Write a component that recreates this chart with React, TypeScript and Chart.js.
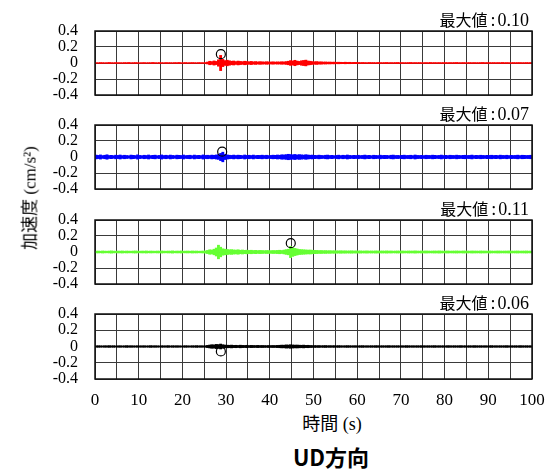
import React, { useEffect, useRef } from 'react';
import { Chart, registerables } from 'chart.js';

Chart.register(...registerables);

// ---- data: amplitude envelopes per 0.5-second bin, in 0.001 cm/s^2 ----
const TIME_BINS: number[] = Array.from({ length: 200 }, (_, i) => i * 0.5 + 0.25);

const RED_AMP = [
  5, 4, 6, 5, 4, 5, 7, 5, 4, 6, 5, 5, 4, 6, 5, 7, 4, 5, 6, 5,
  4, 5, 6, 4, 5, 5, 7, 5, 4, 6, 5, 4, 6, 5, 5, 4, 6, 5, 7, 4,
  5, 6, 4, 5, 6, 5, 4, 6, 5, 5,
  6, 12, 22, 18, 26, 20, 40, 95, 45, 30,
  35, 28, 22, 25, 18, 24, 20, 17, 22, 19, 16, 20, 15, 18, 14, 17, 15, 13, 16, 14,
  13, 15, 12, 14, 13, 16, 14, 18, 22, 30, 26, 34, 24, 20, 28, 32, 36, 25, 22, 18,
  16, 18, 14, 15, 12, 13, 11, 12, 10, 11, 9, 10, 9, 8, 10, 8, 9, 7, 8, 8,
  7, 6, 7, 6, 5, 7, 6, 6, 5, 7, 6, 5, 6, 7, 5, 6, 5, 6, 7, 5,
  6, 5, 5, 6, 7, 5, 6, 5, 6, 5, 5, 6, 5, 7, 5, 6, 5, 6, 5, 6,
  6, 5, 6, 5, 6, 7, 5, 5, 6, 5, 5, 6, 5, 6, 5, 5, 6, 7, 5, 6,
  6, 5, 6, 5, 6, 5, 7, 5, 6, 5, 5, 6, 5, 6, 6, 5, 5, 6, 5, 6,
];

const BLUE_AMP = [
  24, 20, 26, 18, 22, 28, 19, 21, 17, 23, 20, 25, 18, 22, 19, 16, 24, 21, 18, 27,
  20, 17, 22, 19, 25, 18, 21, 23, 17, 20, 26, 19, 22, 18, 24, 20, 17, 23, 21, 19,
  25, 18, 20, 22, 17, 24, 19, 21, 18, 26,
  20, 22, 19, 24, 21, 26, 30, 45, 60, 32,
  26, 22, 20, 24, 19, 23, 21, 18, 25, 20, 22, 19, 24, 18, 21, 20, 23, 19, 22, 18,
  20, 23, 21, 25, 22, 28, 26, 30, 34, 31, 28, 32, 26, 30, 27, 24, 29, 25, 22, 24,
  21, 19, 23, 20, 18, 22, 24, 19, 21, 17, 20, 23, 18, 22, 19, 25, 20, 18, 21, 19,
  22, 18, 20, 24, 19, 21, 17, 22, 20, 18, 23, 19, 21, 20, 17, 22, 24, 19, 20, 18,
  21, 23, 19, 20, 22, 18, 25, 20, 19, 21, 18, 22, 20, 19, 23, 21, 18, 20, 24, 19,
  21, 18, 22, 20, 19, 23, 20, 18, 21, 22, 19, 20, 24, 18, 21, 19, 22, 20, 18, 21,
  20, 22, 19, 21, 18, 23, 20, 19, 22, 18, 21, 19, 20, 23, 18, 22, 21, 19, 20, 22,
];

const GREEN_AMP = [
  11, 12, 10, 13, 11, 10, 12, 14, 11, 10, 12, 11, 13, 10, 12, 11, 10, 12, 13, 11,
  10, 12, 11, 13, 10, 12, 11, 10, 12, 11, 13, 11, 10, 12, 11, 14, 10, 12, 11, 13,
  10, 11, 12, 10, 13, 11, 12, 10, 11, 12,
  14, 20, 28, 25, 35, 50, 85, 60, 40, 35,
  32, 28, 30, 26, 24, 28, 22, 25, 21, 23, 20, 22, 19, 21, 18, 20, 19, 17, 19, 18,
  17, 19, 18, 20, 22, 19, 24, 30, 35, 70, 55, 45, 38, 32, 30, 28, 26, 24, 25, 22,
  21, 20, 18, 19, 17, 18, 16, 17, 15, 16, 15, 14, 16, 14, 15, 13, 14, 15, 13, 14,
  13, 14, 12, 13, 14, 12, 13, 12, 14, 13, 12, 13, 12, 14, 12, 13, 11, 12, 13, 12,
  13, 12, 11, 13, 12, 12, 14, 12, 11, 13, 12, 13, 12, 11, 12, 13, 12, 14, 12, 11,
  12, 13, 11, 12, 12, 13, 12, 11, 13, 12, 12, 11, 13, 12, 12, 11, 13, 12, 12, 11,
  13, 12, 11, 12, 13, 12, 11, 12, 12, 13, 12, 11, 12, 13, 11, 12, 12, 13, 11, 12,
];

const BLACK_AMP = [
  9, 10, 9, 8, 10, 9, 11, 9, 10, 8, 9, 10, 8, 9, 11, 9, 10, 9, 8, 10,
  9, 9, 10, 8, 9, 11, 9, 10, 9, 8, 10, 9, 9, 11, 8, 10, 9, 10, 9, 8,
  9, 10, 9, 8, 10, 9, 11, 9, 10, 9,
  10, 14, 18, 22, 20, 26, 24, 30, 22, 18,
  16, 15, 17, 14, 15, 13, 16, 14, 13, 15, 12, 14, 13, 12, 14, 12, 13, 12, 11, 13,
  12, 13, 12, 14, 15, 17, 16, 20, 18, 22, 19, 17, 18, 16, 15, 17, 14, 15, 13, 12,
  12, 11, 12, 10, 11, 12, 10, 11, 10, 11, 10, 11, 10, 9, 10, 11, 10, 9, 10, 10,
  9, 10, 11, 9, 10, 9, 10, 9, 11, 10, 9, 10, 9, 10, 11, 9, 10, 9, 10, 9,
  10, 9, 11, 10, 9, 10, 9, 10, 9, 11, 10, 9, 10, 9, 10, 11, 9, 10, 9, 10,
  9, 11, 10, 9, 10, 9, 10, 11, 9, 10, 9, 10, 9, 11, 10, 9, 10, 9, 10, 9,
  10, 11, 9, 10, 9, 10, 9, 10, 11, 9, 10, 9, 10, 9, 11, 10, 9, 10, 9, 10,
];

const AMPS = [RED_AMP, BLUE_AMP, GREEN_AMP, BLACK_AMP];
const COLORS = ['#ff0000', '#0000ff', '#66ff33', '#000000'];
const MAX_PREFIX = '最大値';
const MAX_VALUES = ['0.10', '0.07', '0.11', '0.06'];
const PEAK_TIMES = [28.8, 29.1, 44.8, 28.8];
const PEAK_VALUES = [0.11, 0.066, 0.11, -0.06];

const X_MIN = 0;
const X_MAX = 100;
const X_GRID_STEP = 5;
const X_LABEL_STEP = 10;
const Y_MIN = -0.4;
const Y_MAX = 0.4;
const Y_STEP = 0.2;

const Y_TITLE = '加速度 (cm/s²)';
const X_TITLE = '時間 (s)';
const CHART_TITLE = 'UD方向';

// ---- layout ----
const PANEL_TOPS = [31, 125, 220, 314];
const PANEL_H = 64;
const PAD = 12;
const X_AXIS_H = 30;
const SERIF = '"Liberation Serif", "Times New Roman", serif';
const HTML_SERIF = '"Liberation Serif", "Noto Sans CJK JP", serif';

Chart.defaults.font.family = SERIF;

const framePlugin = {
  id: 'frame',
  afterDatasetsDraw(chart: any) {
    const { ctx, chartArea: a } = chart;
    ctx.save();
    ctx.strokeStyle = '#111';
    ctx.lineWidth = 1.5;
    ctx.strokeRect(a.left, a.top, a.right - a.left, a.bottom - a.top);
    ctx.restore();
  },
};

function makeChart(canvas: HTMLCanvasElement, idx: number) {
  const isLast = idx === 3;
  const amps = AMPS[idx];
  return new Chart(canvas, {
    type: 'bar',
    data: {
      datasets: [
        {
          type: 'line',
          data: [{ x: PEAK_TIMES[idx], y: PEAK_VALUES[idx] }],
          showLine: false,
          pointRadius: 4.5,
          pointHoverRadius: 4.5,
          pointBorderColor: '#000',
          pointBackgroundColor: 'rgba(0,0,0,0)',
          pointBorderWidth: 1.2,
          order: 0,
        } as any,
        {
          type: 'bar',
          data: amps.map((a, i) => ({ x: TIME_BINS[i], y: [-a / 1000, a / 1000] })),
          backgroundColor: COLORS[idx],
          borderWidth: 0,
          barPercentage: 1,
          categoryPercentage: 1,
          order: 1,
        } as any,
      ],
    },
    options: {
      animation: false,
      responsive: false,
      maintainAspectRatio: false,
      layout: { padding: { left: 0, right: 15, top: PAD, bottom: isLast ? 0 : PAD } },
      plugins: {
        legend: { display: false },
        tooltip: { enabled: false },
        title: { display: false },
      },
      events: [],
      scales: {
        x: {
          type: 'linear',
          min: X_MIN,
          max: X_MAX,
          offset: false,
          ticks: {
            stepSize: X_GRID_STEP,
            autoSkip: false,
            display: isLast,
            padding: 0,
            maxRotation: 0,
            minRotation: 0,
            font: { family: SERIF, size: 17 },
            color: '#000',
            callback: (v: any) => (Number(v) % X_LABEL_STEP === 0 ? String(v) : ''),
          },
          grid: {
            color: '#3a3a3a',
            lineWidth: 1,
            drawTicks: isLast,
            tickLength: 11,
            tickColor: 'rgba(0,0,0,0)',
            offset: false,
          },
          border: { display: false },
          afterFit: (s: any) => {
            s.height = isLast ? X_AXIS_H : 0;
          },
        },
        y: {
          min: Y_MIN,
          max: Y_MAX,
          ticks: {
            stepSize: Y_STEP,
            autoSkip: false,
            padding: 0,
            font: { family: SERIF, size: 16 },
            color: '#000',
            callback: (v: any) => {
              const r = Math.round(Number(v) * 10) / 10;
              return r === 0 ? '0' : String(r);
            },
          },
          grid: {
            color: '#3a3a3a',
            lineWidth: 1,
            drawTicks: true,
            tickLength: 17,
            tickColor: 'rgba(0,0,0,0)',
          },
          border: { display: false },
          afterFit: (s: any) => {
            s.width = 95;
          },
        },
      },
    } as any,
    plugins: [framePlugin],
  });
}

export default function App() {
  const refs = [
    useRef<HTMLCanvasElement>(null),
    useRef<HTMLCanvasElement>(null),
    useRef<HTMLCanvasElement>(null),
    useRef<HTMLCanvasElement>(null),
  ];

  useEffect(() => {
    const charts = refs.map((r, i) => makeChart(r.current as HTMLCanvasElement, i));
    let alive = true;
    (document as any).fonts?.ready?.then(() => {
      if (alive) charts.forEach((c) => c.update());
    });
    return () => {
      alive = false;
      charts.forEach((c) => c.destroy());
    };
  }, []);

  return (
    <div
      style={{
        position: 'fixed',
        left: 0,
        top: 0,
        width: 547,
        height: 470,
        background: '#fff',
        overflow: 'hidden',
      }}
    >
      {PANEL_TOPS.map((top, i) => {
        const h = i === 3 ? PAD + PANEL_H + 1 + X_AXIS_H : PAD + PANEL_H + PAD;
        return (
          <React.Fragment key={i}>
            <canvas
              ref={refs[i]}
              width={547}
              height={h}
              style={{ position: 'absolute', left: 0, top: top - PAD, width: 547, height: h }}
            />
            <div
              style={{
                position: 'absolute',
                right: 18,
                top: top - 21,
                fontFamily: HTML_SERIF,
                fontSize: 16,
                lineHeight: '20px',
                color: '#000',
                whiteSpace: 'nowrap',
              }}
            >
              {MAX_PREFIX}
              <span style={{ fontSize: 18, margin: '0 2px 0 3px' }}>:</span>
              <span style={{ fontSize: 18 }}>{MAX_VALUES[i]}</span>
            </div>
          </React.Fragment>
        );
      })}
      <div
        style={{
          position: 'absolute',
          left: 28,
          top: 198,
          transform: 'translate(-50%, -50%) rotate(-90deg)',
          fontFamily: HTML_SERIF,
          fontSize: 17,
          whiteSpace: 'nowrap',
          color: '#000',
        }}
      >
        {Y_TITLE}
      </div>
      <div
        style={{
          position: 'absolute',
          left: 332,
          top: 422,
          transform: 'translate(-50%, -50%)',
          fontFamily: HTML_SERIF,
          fontSize: 18,
          whiteSpace: 'nowrap',
          color: '#000',
        }}
      >
        {X_TITLE}
      </div>
      <div
        style={{
          position: 'absolute',
          left: 331,
          top: 456,
          transform: 'translate(-50%, -50%)',
          fontFamily: '"Noto Sans CJK JP", "Noto Sans", sans-serif',
          fontWeight: 700,
          fontSize: 22,
          whiteSpace: 'nowrap',
          color: '#000',
        }}
      >
        {CHART_TITLE}
      </div>
    </div>
  );
}
